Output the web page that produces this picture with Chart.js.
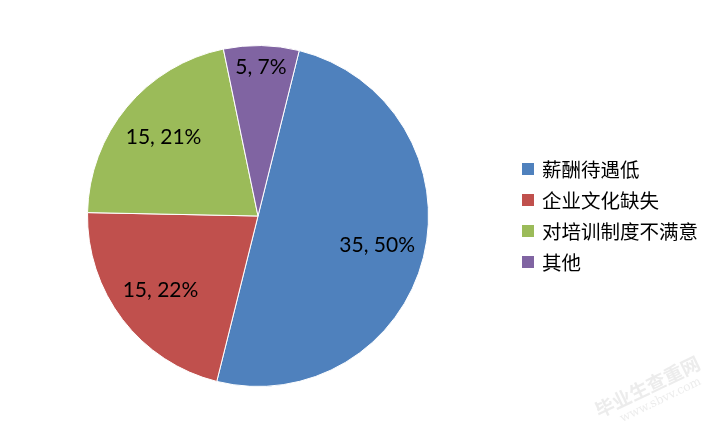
<!DOCTYPE html>
<html>
<head>
<meta charset="utf-8">
<script src="https://cdn.jsdelivr.net/npm/chart.js@4/dist/chart.umd.min.js"></script>
<style>
  html, body { margin: 0; padding: 0; background: #fff; }
  #chart { display: block; }
</style>
</head>
<body>
<canvas id="chart" width="720" height="432"></canvas>
<script>
/* Chart data */
var categories = ['薪酬待遇低', '企业文化缺失', '对培训制度不满意', '其他'];
var counts = [35, 15, 15, 5];
var percentLabels = ['50%', '22%', '21%', '7%'];

/* Office-style palette */
var COLORS = ['#4F81BD', '#C0504D', '#9BBB59', '#8064A2'];

/* Data labels inside the slices, like Excel best-fit */
var sliceLabels = {
  id: 'sliceLabels',
  afterDatasetsDraw: function (chart) {
    var ctx = chart.ctx;
    var meta = chart.getDatasetMeta(0);
    ctx.save();
    ctx.font = '21px Lato, "Open Sans", sans-serif';
    ctx.fillStyle = '#000';
    ctx.textAlign = 'center';
    ctx.textBaseline = 'middle';
    meta.data.forEach(function (arc, i) {
      var p = arc.getProps(['x', 'y', 'startAngle', 'endAngle', 'outerRadius'], true);
      var mid = (p.startAngle + p.endAngle) / 2;
      var share = (p.endAngle - p.startAngle) / (Math.PI * 2);
      var f = share < 0.1 ? 0.87 : 0.72;
      var x = p.x + Math.cos(mid) * p.outerRadius * f;
      var y = p.y + Math.sin(mid) * p.outerRadius * f;
      ctx.fillText(counts[i] + ', ' + percentLabels[i], x, y);
    });
    ctx.restore();
  }
};

/* Legend on the right with square markers */
var sideLegend = {
  id: 'sideLegend',
  afterDraw: function (chart) {
    var ctx = chart.ctx;
    ctx.save();
    ctx.font = '19.5px "Noto Sans CJK SC", sans-serif';
    ctx.textBaseline = 'middle';
    categories.forEach(function (name, i) {
      var y = 169 + i * 31;
      ctx.fillStyle = COLORS[i];
      ctx.fillRect(522, y - 6, 12, 12);
      ctx.fillStyle = '#000';
      ctx.fillText(name, 542, y + 1);
    });
    /* faint watermark */
    ctx.translate(650, 392);
    ctx.rotate(-0.45);
    ctx.fillStyle = 'rgba(200,200,200,0.35)';
    ctx.textAlign = 'center';
    ctx.font = 'bold 19px "Noto Sans CJK SC", sans-serif';
    ctx.fillText('毕业生查重网', 0, -6);
    ctx.font = '12px "DejaVu Serif", serif';
    ctx.fillText('www.sbvv.com', 6, 12);
    ctx.restore();
  }
};

new Chart(document.getElementById('chart'), {
  type: 'pie',
  data: {
    labels: categories,
    datasets: [{
      data: counts,
      backgroundColor: COLORS,
      borderColor: '#ffffff',
      borderWidth: 1
    }]
  },
  options: {
    responsive: false,
    animation: false,
    rotation: 14,
    layout: {
      padding: { left: 87, right: 291, top: 45, bottom: 45 }
    },
    plugins: {
      legend: { display: false },
      tooltip: { enabled: false }
    }
  },
  plugins: [sliceLabels, sideLegend]
});
</script>
</body>
</html>
